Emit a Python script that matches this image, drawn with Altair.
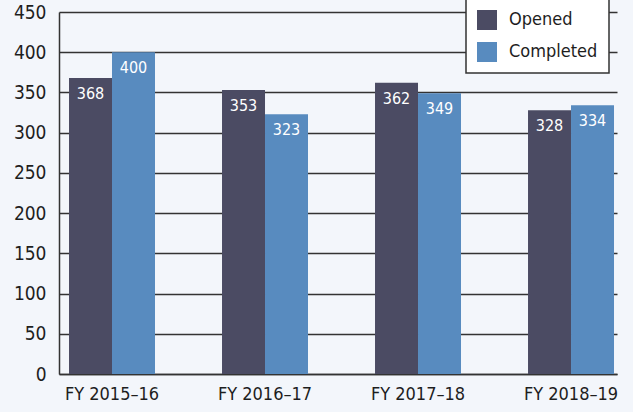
import altair as alt
import pandas as pd

years = ["FY 2015–16", "FY 2016–17", "FY 2017–18", "FY 2018–19"]
opened = [368, 353, 362, 328]
completed = [400, 323, 349, 334]
series = ["Opened", "Completed"]
colors = ["#4b4b63", "#588bbf"]

rows = []
for i, y in enumerate(years):
    rows.append({"year": y, "series": "Opened", "value": opened[i]})
    rows.append({"year": y, "series": "Completed", "value": completed[i]})
df = pd.DataFrame(rows)

FONT = "DejaVu Sans Condensed"

base = alt.Chart(df).encode(
    x=alt.X("year:N", sort=years, title=None,
            scale=alt.Scale(paddingInner=0.438, paddingOuter=0.0425, align=0.77),
            axis=alt.Axis(labelAngle=0, labelFontSize=18, labelColor="#1e1e1e",
                          labelFont=FONT, ticks=False, domainColor="#333",
                          domainWidth=1.5, labelPadding=11)),
    xOffset=alt.XOffset("series:N", sort=series),
)

bars = base.mark_bar().encode(
    y=alt.Y("value:Q", title=None,
            scale=alt.Scale(domain=[0, 450], nice=False),
            axis=alt.Axis(values=list(range(0, 451, 50)), labelFontSize=19,
                          labelFont=FONT, labelColor="#1e1e1e", ticks=False,
                          labelPadding=13, domainColor="#333", domainWidth=1.5,
                          gridColor="#333", gridWidth=1.5, gridOpacity=1)),
    color=alt.Color("series:N", sort=series,
                    scale=alt.Scale(domain=series, range=colors),
                    legend=alt.Legend(title=None, orient="none", legendX=407,
                                      legendY=-13, fillColor="white",
                                      strokeColor="#333",
                                      symbolType="square", symbolSize=400,
                                      symbolStrokeWidth=0, symbolOpacity=1,
                                      labelFontSize=18, labelFont=FONT,
                                      labelColor="#1e1e1e", padding=11,
                                      rowPadding=12, labelOffset=12)),
)

labels = base.mark_text(baseline="top", dy=8, color="white", fontSize=16,
                        font=FONT).encode(
    y=alt.Y("value:Q"),
    text=alt.Text("value:Q"),
)

chart = (bars + labels).properties(
    width=558, height=362,
    padding={"left": 59, "top": 12, "right": 16, "bottom": 38},
    autosize=alt.AutoSizeParams(type="none"),
    background="#f3f6fb",
).configure_view(stroke=None).configure_legend(strokeWidth=1.5)

chart.save("out.html", embed_options={"renderer": "svg", "actions": False})
